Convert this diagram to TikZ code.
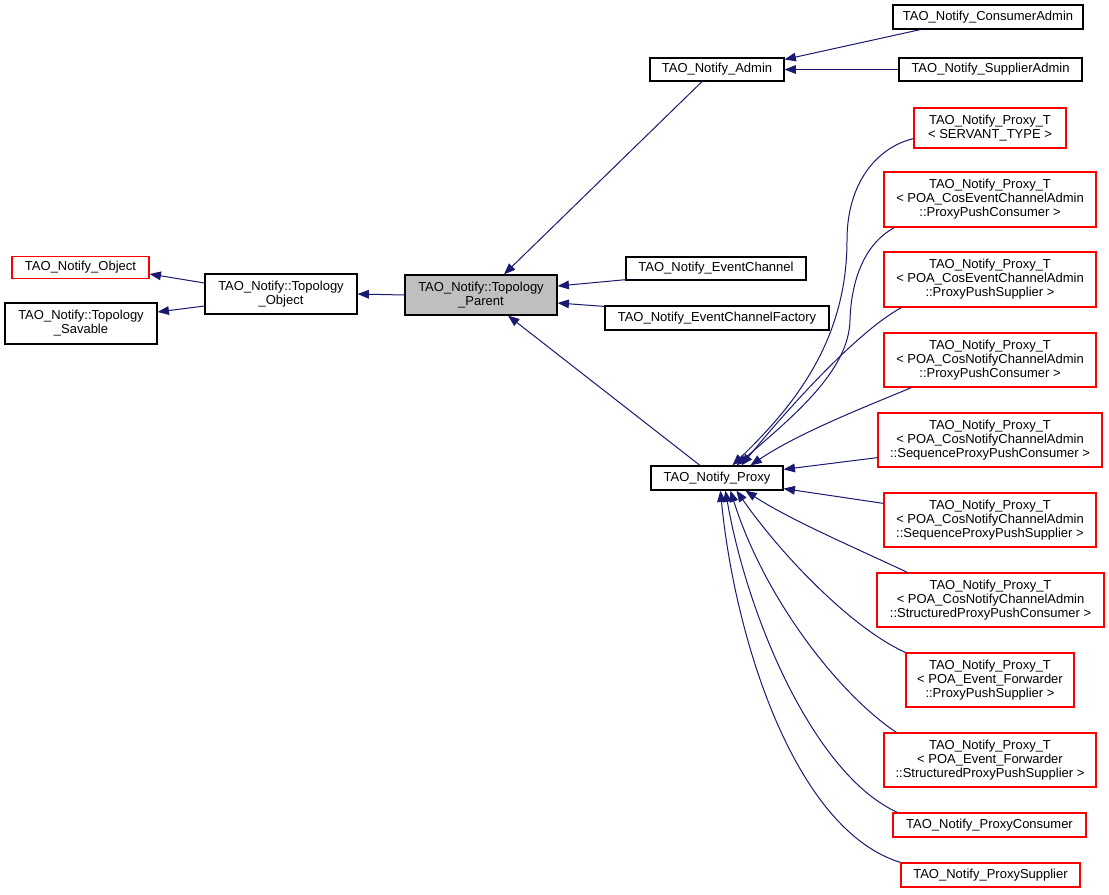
\documentclass[tikz,border=0pt]{standalone}
\usepackage{fontspec}
\setmainfont{Liberation Sans}
\usetikzlibrary{arrows.meta,calc}
\definecolor{edgeblue}{HTML}{191970}
\definecolor{nodegray}{HTML}{BFBFBF}
\begin{document}
\begin{tikzpicture}[x=0.75pt,y=-0.75pt,
  box/.style={draw=black, fill=white, line width=0.9pt, inner sep=0pt, align=center, font=\fontsize{9.75}{10.6}\selectfont},
  redbox/.style={box, draw=red},
  sz/.style 2 args={minimum width=#1*0.75pt, minimum height=#2*0.75pt},
  edge/.style={draw=edgeblue, line width=0.75pt, -{Triangle[length=8.5pt,width=6.5pt]}}]
\useasboundingbox (0,0) rectangle (1109,895);
\fill[white] (0,0) rectangle (1109,895);

\node[redbox, sz={137}{22}] (obj) at (80.5,267.5) {TAO\_Notify\_Object};
\node[box, sz={152}{41}] (sav) at (81,323.5) {TAO\_Notify::Topology\\\_Savable};
\node[box, sz={152}{40}] (tobj) at (281,294) {TAO\_Notify::Topology\\\_Object};
\node[box, fill=nodegray, sz={152}{40}] (par) at (481,295) {TAO\_Notify::Topology\\\_Parent};
\node[box, sz={134}{23}] (adm) at (717,69.5) {TAO\_Notify\_Admin};
\node[box, sz={190}{24}] (cadm) at (988,17) {TAO\_Notify\_ConsumerAdmin};
\node[box, sz={183}{23}] (sadm) at (990.5,69.5) {TAO\_Notify\_SupplierAdmin};
\node[box, sz={180}{23}] (ec) at (716,268.5) {TAO\_Notify\_EventChannel};
\node[box, sz={224}{24}] (ecf) at (717,318) {TAO\_Notify\_EventChannelFactory};
\node[box, sz={132}{24}] (prx) at (717,478) {TAO\_Notify\_Proxy};

\node[redbox, sz={152}{40}] (pt0) at (990,128) {TAO\_Notify\_Proxy\_T\\< SERVANT\_TYPE >};
\node[redbox, sz={212}{55}] (pt1) at (990,199.5) {TAO\_Notify\_Proxy\_T\\< POA\_CosEventChannelAdmin\\::ProxyPushConsumer >};
\node[redbox, sz={212}{55}] (pt2) at (990,279.5) {TAO\_Notify\_Proxy\_T\\< POA\_CosEventChannelAdmin\\::ProxyPushSupplier >};
\node[redbox, sz={212}{54}] (pt3) at (990,360) {TAO\_Notify\_Proxy\_T\\< POA\_CosNotifyChannelAdmin\\::ProxyPushConsumer >};
\node[redbox, sz={224}{54}] (pt4) at (990,440) {TAO\_Notify\_Proxy\_T\\< POA\_CosNotifyChannelAdmin\\::SequenceProxyPushConsumer >};
\node[redbox, sz={212}{54}] (pt5) at (990,520) {TAO\_Notify\_Proxy\_T\\< POA\_CosNotifyChannelAdmin\\::SequenceProxyPushSupplier >};
\node[redbox, sz={227}{54}] (pt6) at (990.5,600) {TAO\_Notify\_Proxy\_T\\< POA\_CosNotifyChannelAdmin\\::StructuredProxyPushConsumer >};
\node[redbox, sz={168}{54}] (pt7) at (990,680) {TAO\_Notify\_Proxy\_T\\< POA\_Event\_Forwarder\\::ProxyPushSupplier >};
\node[redbox, sz={212}{54}] (pt8) at (990,760) {TAO\_Notify\_Proxy\_T\\< POA\_Event\_Forwarder\\::StructuredProxyPushSupplier >};
\node[redbox, sz={193}{24}] (pc) at (989.5,825) {TAO\_Notify\_ProxyConsumer};
\node[redbox, sz={179}{24}] (ps) at (990.5,875) {TAO\_Notify\_ProxySupplier};

\draw[edge] ($(tobj.west)+(0,-11)$) -- ($(obj.east)+(0,6.5)$);
\draw[edge] ($(tobj.west)+(0,12)$) -- ($(sav.east)+(0,-11.5)$);
\draw[edge] (par.west) -- (tobj.east);
\draw[edge] ($(adm.south)+(-15,0)$) -- ($(par.north)+(23,0)$);
\draw[edge] ($(ec.south west)+(1,-1)$) -- ($(par.east)+(0,-9)$);
\draw[edge] ($(ecf.north west)+(0,1)$) -- ($(par.east)+(0,8)$);
\draw[edge] ($(prx.north)+(-17,0)$) -- ($(par.south)+(27,0)$);
\draw[edge] ($(cadm.south west)+(28,0)$) -- ($(adm.east)+(0,-10)$);
\draw[edge] (sadm.west) -- (adm.east);

\draw[edge] ($(pt0.south west)+(0,-10)$) .. controls (875,148) and (847,185) .. (847,240) .. controls (847,340) and (795,405) .. ($(prx.north west)+(82,0)$);
\draw[edge] ($(pt1.south west)+(11,0)$) .. controls (862,245) and (851,285) .. (850,320) .. controls (849,370) and (795,415) .. ($(prx.north west)+(86,0)$);
\draw[edge] ($(pt2.south west)+(18,0)$) .. controls (860,330) and (795,400) .. ($(prx.north west)+(91,0)$);
\draw[edge] ($(pt3.south west)+(28,0)$) .. controls (870,405) and (800,432) .. ($(prx.north west)+(100,0)$);
\draw[edge] ($(pt4.south west)+(0,-10)$) -- ($(prx.north east)+(0,4)$);
\draw[edge] ($(pt5.north west)+(0,11)$) -- ($(prx.south east)+(0,-2)$);
\draw[edge] ($(pt6.north west)+(31,0)$) .. controls (860,550) and (790,520) .. ($(prx.south west)+(95,0)$);
\draw[edge] (pt7.north west) .. controls (855,630) and (785,560) .. ($(prx.south west)+(86,0)$);
\draw[edge] ($(pt8.north west)+(13,0)$) .. controls (840,695) and (765,600) .. ($(prx.south west)+(80,0)$);
\draw[edge] ($(pc.north west)+(5,0)$) .. controls (815,775) and (748,620) .. ($(prx.south west)+(75,0)$);
\draw[edge] (ps.north west) .. controls (795,830) and (735,640) .. ($(prx.south west)+(70,0)$);
\end{tikzpicture}
\end{document}
